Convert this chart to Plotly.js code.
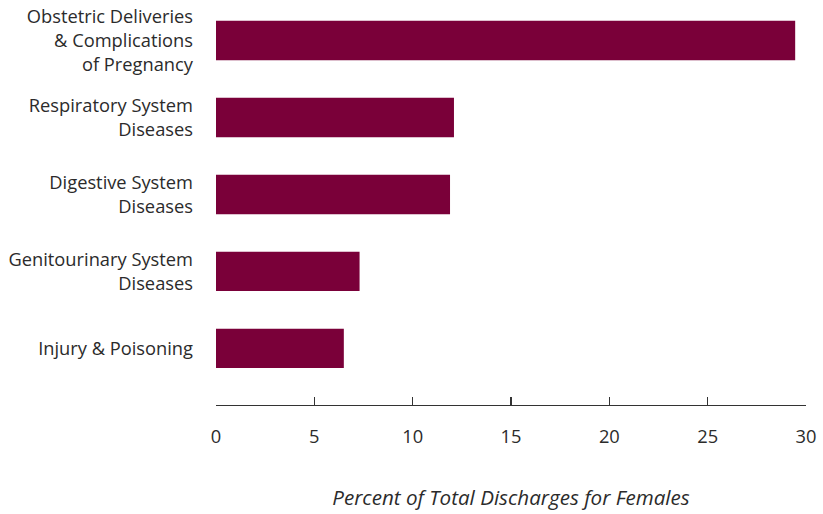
<!DOCTYPE html>
<html>
<head>
<meta charset="utf-8">
<script src="https://cdn.plot.ly/plotly-3.0.1.min.js"></script>
<style>html,body{margin:0;padding:0;background:#fff;}#chart{width:823px;height:514px;}</style>
</head>
<body>
<div id="chart"></div>
<script>
const categories = [
  "Injury & Poisoning",
  "Genitourinary System<br>Diseases",
  "Digestive System<br>Diseases",
  "Respiratory System<br>Diseases",
  "Obstetric Deliveries<br>& Complications<br>of Pregnancy"
];
const values = [6.5, 7.3, 11.9, 12.1, 29.45];
const xTicks = [0, 5, 10, 15, 20, 25, 30];

const font = {family: "Open Sans, Noto Sans, sans-serif", size: 18.3, color: "#2b2b2b"};
const titleFont = {family: "Open Sans, Noto Sans, sans-serif", size: 20.6, color: "#2b2b2b"};

Plotly.newPlot("chart", [{
  type: "bar",
  orientation: "h",
  x: values,
  y: categories,
  marker: {color: "#7a0039"},
  hoverinfo: "none"
}], {
  width: 823,
  height: 514,
  margin: {l: 216, r: 17, t: 2, b: 109},
  paper_bgcolor: "#fff",
  plot_bgcolor: "#fff",
  bargap: 0.49,
  font: font,
  showlegend: false,
  xaxis: {
    range: [0, 30],
    tickvals: xTicks,
    ticktext: xTicks.map(String),
    ticks: "inside",
    ticklen: 8,
    tickcolor: "#333",
    tickwidth: 1.2,
    showline: true,
    linecolor: "#333",
    linewidth: 1.2,
    showgrid: false,
    zeroline: false,
    ticklabelstandoff: 15,
    tickfont: font,
    title: {text: "<i>Percent of Total Discharges for Females</i>", font: titleFont, standoff: 43},
    automargin: false
  },
  yaxis: {
    type: "category",
    range: [-0.734, 4.5],
    showline: false,
    showgrid: false,
    zeroline: false,
    ticks: "",
    ticklabelstandoff: 22,
    tickfont: font,
    automargin: false
  }
}, {staticPlot: true});
</script>
</body>
</html>
